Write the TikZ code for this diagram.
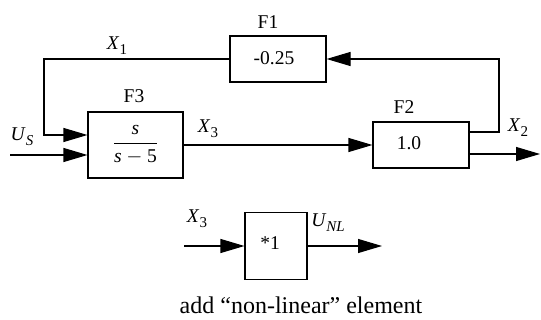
\documentclass[tikz,border=0pt]{standalone}
\usepackage{fontspec}
\setmainfont{Liberation Serif}
\usetikzlibrary{arrows.meta,calc}
\newcommand{\vsub}[2]{\textit{#1}\raisebox{-0.55ex}{\fontsize{15}{15}\selectfont #2}}
\begin{document}
\begin{tikzpicture}[x=1pt,y=-1pt,
  font=\fontsize{19.5}{22}\selectfont,
  box/.style={draw, line width=1.1pt, inner sep=0pt},
  arr/.style={-{Triangle[length=24pt,width=14pt]}, line width=1.1pt},
  lbl/.style={inner sep=0pt}]
\useasboundingbox (0,0) rectangle (541,320);
% blocks
\node[box, minimum width=95pt, minimum height=66pt] (F3) at (135.5,145)
  {$\displaystyle\frac{\textit{s}}{\textit{s}-\mbox{5}}$};
\node[box, minimum width=96pt, minimum height=46pt] (F1) at (278,59) {};
\node[box, minimum width=96pt, minimum height=46pt] (F2) at (421,145) {};
\node[box, minimum width=62pt, minimum height=67pt] (NL) at (276,246) {};
% texts in blocks
\node[lbl] (t1) at (274,58) {-0.25};
\node[lbl] (t2) at (409,143) {1.0};
\node[lbl] (t3) at (270,243) {*1};
% block labels
\node[lbl] (lF3) at (134,96) {F3};
\node[lbl] (lF1) at (268,22.5) {F1};
\node[lbl] (lF2) at (404,107) {F2};
% signal labels
\node[lbl] (lX1) at (117,46) {\vsub{X}{1}};
\node[lbl] (lUS) at (22,137) {\vsub{U}{\textit{S}}};
\node[lbl] (lX3) at (208,129) {\vsub{X}{3}};
\node[lbl] (lX2) at (518,128) {\vsub{X}{2}};
\node[lbl] (lX3b) at (197,219) {\vsub{X}{3}};
\node[lbl] (lUNL) at (328,223) {\vsub{U}{\textit{NL}}};
\node[lbl] (cap) at (301,305) {\fontsize{24}{28}\selectfont add “non-linear” element};
% coordinates
\coordinate (c1) at (44,59);
\coordinate (c2) at (499,59);
\coordinate (us) at (10,155);
\coordinate (x2out) at (540,154);
\coordinate (nlin) at (184,246);
\coordinate (nlout) at (382,246);
% connectors
\draw[arr] (F1.west) -| (c1) |- ($(F3.west)+(0,-10)$);
\draw[arr] (us) -- (us -| F3.west);
\draw[arr] (F3.east) -- (F2.west);
\draw[arr] ($(F2.east)+(0,-13)$) -| (c2) -- (F1.east);
\draw[arr] ($(F2.east)+(0,9)$) -- (x2out);
\draw[arr] (nlin) -- (NL.west);
\draw[arr] (NL.east) -- (nlout);
\end{tikzpicture}
\end{document}
